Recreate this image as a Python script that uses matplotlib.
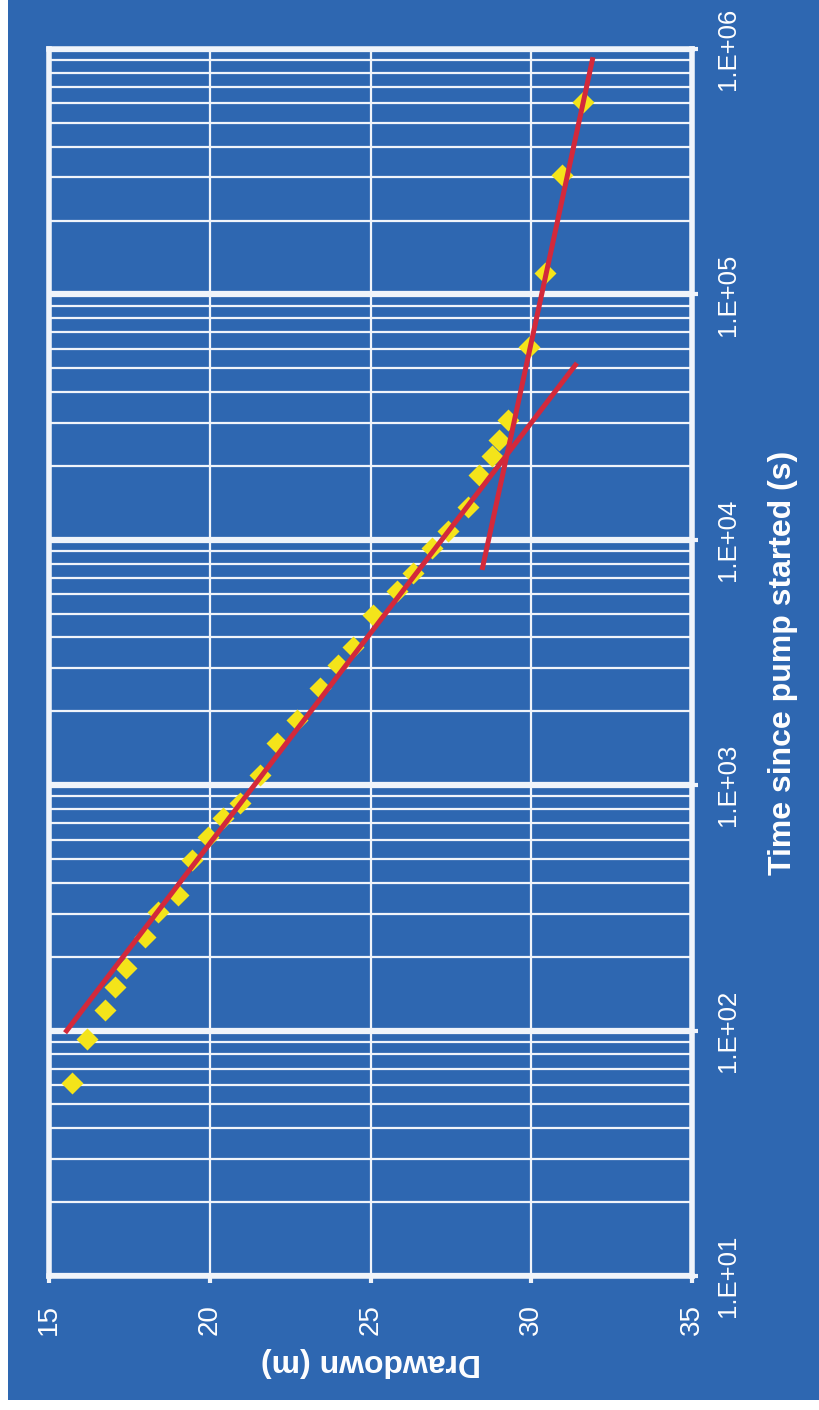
import matplotlib
matplotlib.use("Agg")
import matplotlib.pyplot as plt
from matplotlib.patches import Rectangle
from matplotlib.ticker import FixedLocator, LogLocator, NullFormatter, FixedFormatter

# ---- data ----
time_s = [61, 92, 121, 151, 180, 240, 304, 357, 496, 615, 735, 846, 1100, 1490,
          1850, 2490, 3090, 3660, 4940, 6190, 7330, 9270, 10900, 13600, 18400,
          22000, 25500, 30800, 61100, 122000, 307000, 608000]
drawdown_m = [15.72, 16.18, 16.74, 17.05, 17.39, 17.99, 18.39, 19.01, 19.45, 19.95,
              20.41, 20.94, 21.56, 22.09, 22.71, 23.43, 23.99, 24.46, 25.08, 25.82,
              26.32, 26.91, 27.41, 28.03, 28.37, 28.78, 29.00, 29.28, 29.93, 30.43,
              30.96, 31.61]
early_line_t = [98, 52500]
early_line_s = [15.50, 31.42]
late_line_t = [7540, 926000]
late_line_s = [28.47, 31.92]

time_ticks = [1e1, 1e2, 1e3, 1e4, 1e5, 1e6]
time_labels = ["1.E+01", "1.E+02", "1.E+03", "1.E+04", "1.E+05", "1.E+06"]
draw_ticks = [15, 20, 25, 30, 35]
draw_labels = ["15", "20", "25", "30", "35"]

BLUE = "#2E67B1"
GRID = "#F0F4FA"
RED = "#D3293B"
YELLOW = "#F4E41A"

plt.rcParams['font.family'] = ['Liberation Sans', 'DejaVu Sans']

W, H = 819, 1410
fig = plt.figure(figsize=(W / 100, H / 100), dpi=100, facecolor="white")
fig.patches.append(Rectangle((8 / W, 10 / H), (W - 8) / W, (H - 10) / H,
                             transform=fig.transFigure, facecolor=BLUE,
                             edgecolor="none", zorder=-10))

left, right, top, bottom = 49, 692, 49, 1276
ax = fig.add_axes([left / W, (H - bottom) / H, (right - left) / W, (bottom - top) / H])
ax.set_zorder(5)
ax.set_facecolor(BLUE)

ax.set_yscale("log")
ax.set_xlim(15, 35)
ax.set_ylim(10, 1e6)

ax.yaxis.tick_right()
ax.yaxis.set_major_locator(FixedLocator(time_ticks))
ax.yaxis.set_major_formatter(FixedFormatter(time_labels))
ax.yaxis.set_minor_locator(LogLocator(base=10, subs=range(2, 10), numticks=20))
ax.yaxis.set_minor_formatter(NullFormatter())

ax.xaxis.set_major_locator(FixedLocator(draw_ticks))
ax.xaxis.set_major_formatter(FixedFormatter(draw_labels))

ax.set_axisbelow(True)
ax.grid(which="major", axis="y", color=GRID, lw=4.5)
ax.grid(which="minor", axis="y", color=GRID, lw=1.6)
ax.grid(which="major", axis="x", color=GRID, lw=1.6)

for s in ax.spines.values():
    s.set_color(GRID)
    s.set_linewidth(4.0)

ax.tick_params(axis="y", which="major", direction="out", length=4.5, width=3,
               color=GRID, labelcolor="white", labelsize=18.5, pad=13,
               labelrotation=90)
ax.tick_params(axis="y", which="minor", length=0)
ax.tick_params(axis="x", which="major", direction="out", length=5, width=3,
               color=GRID, labelcolor="white", labelsize=20, pad=15,
               labelrotation=90)
for lbl in ax.get_yticklabels():
    lbl.set_va("center")
    lbl.set_ha("left")

ax.plot(drawdown_m, time_s, linestyle="none", marker="D", markersize=11.5,
        markerfacecolor=YELLOW, markeredgecolor="none", zorder=3, clip_on=False)
ax.plot(early_line_s, early_line_t, color=RED, lw=3.6, zorder=4,
        solid_capstyle="butt")
ax.plot(late_line_s, late_line_t, color=RED, lw=3.6, zorder=4,
        solid_capstyle="butt")

ax.set_xlabel("Drawdown (m)", fontsize=23, fontweight="bold", color="white",
              rotation=180)
ax.xaxis.set_label_coords(0.5, -(1362 - bottom) / (bottom - top))
ax.xaxis.label.set_va("center")
ax.set_ylabel("Time since pump started (s)", fontsize=23, fontweight="bold",
              color="white", rotation=90)
ax.yaxis.set_label_position("right")
ax.yaxis.set_label_coords((783 - left) / (right - left), 0.5)
ax.yaxis.label.set_va("center")
ax.yaxis.label.set_ha("center")

fig.savefig("out.png", dpi=100, facecolor="white")
